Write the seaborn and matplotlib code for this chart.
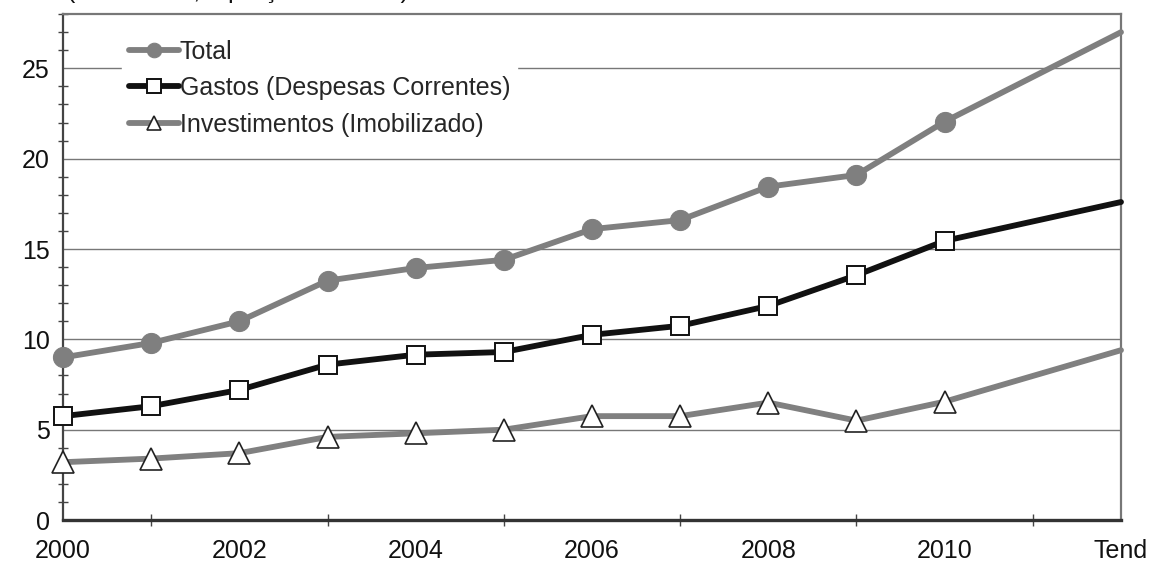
import matplotlib
matplotlib.use("Agg")
import matplotlib.pyplot as plt
from matplotlib.ticker import MultipleLocator, FixedLocator
import seaborn as sns
import pandas as pd

# Period: annual values 2000-2010, plus the trend projection ("Tend")
periods = [2000, 2001, 2002, 2003, 2004, 2005, 2006, 2007, 2008, 2009, 2010, 2012]
tick_positions = [2000, 2002, 2004, 2006, 2008, 2010, 2012]
tick_labels = ["2000", "2002", "2004", "2006", "2008", "2010", "Tend"]

total = [9.0, 9.8, 11.0, 13.25, 13.95, 14.4, 16.1, 16.6, 18.45, 19.1, 22.05, 27.0]
gastos = [5.75, 6.3, 7.2, 8.6, 9.15, 9.3, 10.25, 10.75, 11.85, 13.55, 15.45, 17.6]
investimentos = [3.2, 3.4, 3.7, 4.6, 4.8, 5.0, 5.75, 5.75, 6.5, 5.5, 6.55, 9.4]

names = ["Total", "Gastos (Despesas Correntes)", "Investimentos (Imobilizado)"]

df = pd.DataFrame({"periodo": periods * 3,
                   "valor": total + gastos + investimentos,
                   "serie": [n for n in names for _ in periods]})

sns.set_theme(style="white")
plt.rcParams["font.family"] = ["Liberation Sans", "DejaVu Sans"]

FS = 18

fig = plt.figure(figsize=(11.54, 5.65), dpi=100)
ax = fig.add_axes([0.0546, 0.0796, 0.9168, 0.8954])

styles = {
    "Total": dict(color="#7f7f7f", marker="o", markersize=14.5,
                  markerfacecolor="#7f7f7f", markeredgecolor="#7f7f7f", linewidth=4.2),
    "Gastos (Despesas Correntes)": dict(color="#111111", marker="s", markersize=13,
                  markerfacecolor="white", markeredgecolor="#111111",
                  markeredgewidth=1.4, linewidth=4.2),
    "Investimentos (Imobilizado)": dict(color="#808080", marker="^", markersize=15.5,
                  markerfacecolor="white", markeredgecolor="#222222",
                  markeredgewidth=1.2, linewidth=4.2),
}

n_marked = len(periods) - 1  # the trend point carries no marker
for name in names:
    sub = df[df["serie"] == name]
    sns.lineplot(data=sub, x="periodo", y="valor", ax=ax, label=name,
                 markevery=list(range(n_marked)), zorder=3, clip_on=False,
                 **styles[name])

ax.set_xlim(2000, 2012)
ax.set_ylim(0, 28)
ax.set_xlabel("")
ax.set_ylabel("")

ax.yaxis.set_major_locator(FixedLocator([0, 5, 10, 15, 20, 25]))
ax.yaxis.set_minor_locator(MultipleLocator(1))
ax.xaxis.set_major_locator(FixedLocator(tick_positions))
ax.xaxis.set_minor_locator(MultipleLocator(1))
ax.set_xticklabels(tick_labels)
ax.set_yticklabels(["0", "5", "10", "15", "20", "25"])

ax.grid(axis="y", which="major", color="#777777", linewidth=1.0, zorder=0)
ax.set_axisbelow(True)

for side in ["right", "top"]:
    ax.spines[side].set_color("#777777")
    ax.spines[side].set_linewidth(1.6)
ax.spines["left"].set_color("#444444")
ax.spines["left"].set_linewidth(1.6)
ax.spines["bottom"].set_color("#333333")
ax.spines["bottom"].set_linewidth(2.4)

ax.tick_params(axis="both", which="both", direction="inout", color="#444444",
               labelsize=FS, labelcolor="#111111")
ax.tick_params(axis="y", which="major", length=11, width=1.2, pad=4)
ax.tick_params(axis="y", which="minor", length=7, width=1.0, left=True)
ax.tick_params(axis="x", which="major", length=8, width=1.2, pad=10)
ax.tick_params(axis="x", which="minor", length=8, width=1.0, bottom=True)

leg = ax.legend(loc="upper left", bbox_to_anchor=(0.056, 0.962), frameon=True,
                fontsize=FS, handlelength=2.0, handletextpad=0.05, numpoints=1,
                borderpad=0.25, labelspacing=0.5, borderaxespad=0.0)
leg.get_frame().set_facecolor("white")
leg.get_frame().set_edgecolor("white")
leg.get_frame().set_alpha(1.0)
for h in leg.legend_handles:
    h.set_markersize(10.5)

# unit caption above the plot area
fig.text(0.058, 1.0 + 2 / 565, "(R$ bilhões, a preços de 2010)", fontsize=FS,
         va="baseline", ha="left", color="#111111")

fig.savefig("out.png", dpi=100)
